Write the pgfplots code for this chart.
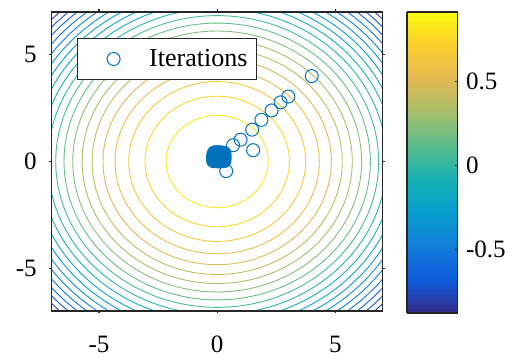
\documentclass[border=0pt]{standalone}
\usepackage{pgfplots}
\pgfplotsset{compat=1.18}
\usepackage{fontspec}
\setmainfont{Liberation Serif}

\definecolor{axisgray}{rgb}{0.15,0.15,0.15}
\definecolor{mblue}{rgb}{0,0.447,0.741}

\pgfplotsset{
  colormap={parula}{rgb255=(53,42,135) rgb255=(15,92,221) rgb255=(18,125,216)
    rgb255=(7,156,207) rgb255=(21,177,180) rgb255=(89,189,140) rgb255=(165,190,107)
    rgb255=(225,185,82) rgb255=(252,206,46) rgb255=(249,251,14)},
  markonly legend/.style={
    legend image code/.code={\path (0pt,0pt) (53pt,0pt);
      \draw[##1] plot coordinates {(26.6pt,0pt)};}},
}

\begin{document}
\begin{tikzpicture}
\begin{axis}[
  scale only axis, width=331pt, height=299pt,
  xmin=-7, xmax=7, ymin=-7, ymax=7,
  xtick={-5,0,5}, ytick={-5,0,5},
  xticklabels={-5,0,5}, yticklabels={-5,0,5},
  tick align=outside, major tick length=2.5pt,
  every tick/.style={axisgray, line width=1.2pt},
  axis line style={axisgray, line width=1.5pt},
  tick label style={font=\fontsize{25}{25}\selectfont, text=black},
  xticklabel style={yshift=-19pt},
  yticklabel style={xshift=-9pt},
  axis on top,
  colormap name=parula,
  point meta min=-0.877, point meta max=0.915,
  colorbar sampled,
  colorbar style={
    at={(parent axis.north east)}, anchor=north west, xshift=15.8pt,
    scale only axis, width=50.6pt, height=301pt,
    samples=180,
    ytick={-0.5,0,0.5}, yticklabels={-0.5,0,0.5},
    ytick pos=right, tick align=inside, major tick length=3pt,
    every tick/.style={axisgray, line width=1pt},
    axis line style={axisgray, line width=1.3pt},
    yticklabel style={font=\fontsize{25}{25}\selectfont, text=black, xshift=5pt},
  },
  legend style={
    at={(0.0755,0.913)}, anchor=north west,
    draw=axisgray, line width=1.3pt, fill=white,
    inner xsep=9pt, inner ysep=11pt,
    font=\fontsize{26}{26}\selectfont,
    nodes={inner sep=0pt},
    /tikz/every odd column/.append style={column sep=8.6pt},
  },
]
% contour lines: radius of each level set / level value
\foreach \r/\lev in {
  2.160/0.8297, 3.055/0.7443, 3.741/0.6590, 4.320/0.5737, 4.830/0.4883,
  5.291/0.4030, 5.714/0.3177, 6.109/0.2323, 6.480/0.1470, 6.830/0.0617,
  7.163/-0.0237, 7.482/-0.1090, 7.788/-0.1943, 8.081/-0.2797, 8.365/-0.3650,
  8.640/-0.4503, 8.905/-0.5357, 9.164/-0.6210, 9.415/-0.7063, 9.659/-0.7917} {
  \edef\contourline{\noexpand\addplot[forget plot, mesh, point meta=\lev,
    line width=0.9pt, domain=0:360, samples=181]
    ({\r*cos(x)},{\r*sin(x)});}
  \contourline
}
% iterates
\addplot[only marks, mark=o, mark size=6.5pt, color=mblue,
  mark options={line width=1pt}, markonly legend]
  table {
x y
4.00 4.00
3.01 3.04
2.68 2.77
2.30 2.39
1.87 1.95
1.48 1.49
0.99 1.02
0.67 0.76
1.52 0.53
0.38 -0.45
0.30 0.40
-0.17 0.02
-0.11 0.03
-0.05 0.01
0.01 0.02
0.07 0.00
0.13 0.02
0.19 0.01
0.25 0.03
0.30 0.02
-0.16 0.08
-0.10 0.07
-0.04 0.09
0.02 0.07
0.08 0.08
0.14 0.06
0.20 0.08
0.26 0.07
0.31 0.09
-0.17 0.13
-0.11 0.14
-0.05 0.12
0.01 0.13
0.07 0.15
0.13 0.13
0.19 0.14
0.25 0.12
0.30 0.14
-0.16 0.19
-0.10 0.20
-0.04 0.18
0.02 0.19
0.08 0.21
0.14 0.19
0.20 0.20
0.26 0.18
0.31 0.19
-0.17 0.25
-0.11 0.24
-0.05 0.26
0.01 0.25
0.07 0.24
0.13 0.26
0.19 0.25
0.25 0.24
0.30 0.26
-0.16 0.31
-0.10 0.30
-0.04 0.32
0.02 0.31
0.08 0.30
0.14 0.32
0.20 0.31
0.26 0.30
0.31 0.32
-0.15 0.37
-0.09 0.38
-0.03 0.36
0.03 0.37
0.09 0.38
0.15 0.36
0.21 0.37
0.27 0.38
-0.12 0.43
-0.06 0.42
0.00 0.43
0.06 0.42
0.12 0.43
0.18 0.42
};
\addlegendentry{Iterations}
\end{axis}
\path (-51.7pt,-47pt) rectangle (463.3pt,311pt);
\end{tikzpicture}
\end{document}
